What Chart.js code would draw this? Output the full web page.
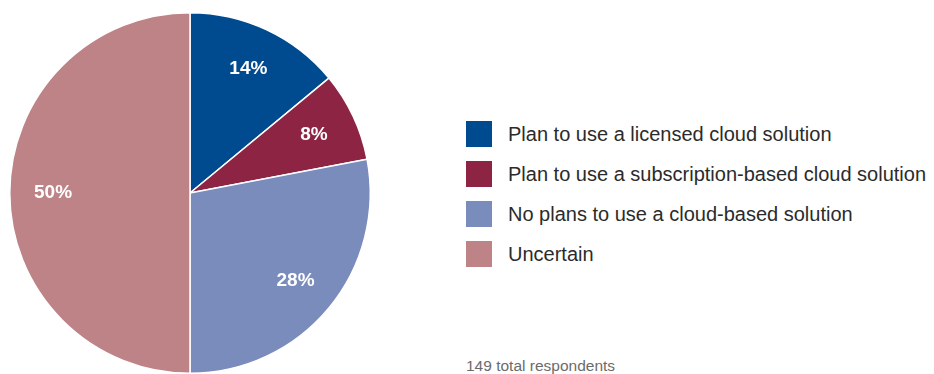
<!DOCTYPE html>
<html>
<head>
<meta charset="utf-8">
<script src="https://cdn.jsdelivr.net/npm/chart.js@4"></script>
<style>
  html, body { margin: 0; padding: 0; background: #fff; }
  body { width: 934px; height: 374px; position: relative; overflow: hidden;
         font-family: "Liberation Sans", Arial, Helvetica, sans-serif; }
  #pie-wrap { position: absolute; left: 0; top: 0; width: 381px; height: 374px; }
  #legend { position: absolute; left: 466px; top: 121px; margin: 0; padding: 0; list-style: none; }
  #legend li { height: 26px; margin-bottom: 14px; display: flex; align-items: center;
               font-size: 20px; color: #2b2b2b; white-space: nowrap; }
  #legend .box { width: 26px; height: 26px; margin-right: 16px; flex: none; }
  #note { position: absolute; left: 466px; top: 357px; font-size: 15.5px; color: #6b6b6b; }
</style>
</head>
<body>
<div id="pie-wrap"><canvas id="pie"></canvas></div>
<ul id="legend"></ul>
<div id="note"></div>

<script>
const categories = [
  "Plan to use a licensed cloud solution",
  "Plan to use a subscription-based cloud solution",
  "No plans to use a cloud-based solution",
  "Uncertain"
];
const shares = [14, 8, 28, 50];
const colors = ["#004a8f", "#8e2444", "#7a8cbc", "#be8386"];
const respondents = 149;

// white percentage text inside each slice
const sliceLabels = {
  id: "sliceLabels",
  afterDatasetsDraw(chart) {
    const ctx = chart.ctx;
    const meta = chart.getDatasetMeta(0);
    ctx.save();
    ctx.fillStyle = "#ffffff";
    ctx.font = "bold 19px 'Liberation Sans', Arial, sans-serif";
    ctx.textAlign = "center";
    ctx.textBaseline = "middle";
    meta.data.forEach((arc, i) => {
      const p = arc.getProps(["x", "y", "startAngle", "endAngle", "outerRadius"], true);
      const mid = (p.startAngle + p.endAngle) / 2;
      const r = p.outerRadius * 0.76;
      ctx.fillText(shares[i] + "%", p.x + Math.cos(mid) * r, p.y + Math.sin(mid) * r);
    });
    ctx.restore();
  }
};

new Chart(document.getElementById("pie"), {
  type: "pie",
  data: {
    labels: categories,
    datasets: [{
      data: shares,
      backgroundColor: colors,
      borderColor: "#ffffff",
      borderWidth: 1.5
    }]
  },
  options: {
    responsive: true,
    maintainAspectRatio: false,
    animation: false,
    layout: { padding: { top: 12, bottom: 0, left: 9, right: 10 } },
    plugins: {
      legend: { display: false },
      tooltip: { enabled: false }
    }
  },
  plugins: [sliceLabels]
});

const legend = document.getElementById("legend");
categories.forEach((name, i) => {
  const li = document.createElement("li");
  const box = document.createElement("span");
  box.className = "box";
  box.style.background = colors[i];
  li.appendChild(box);
  li.appendChild(document.createTextNode(name));
  legend.appendChild(li);
});

document.getElementById("note").textContent = respondents + " total respondents";
</script>
</body>
</html>
